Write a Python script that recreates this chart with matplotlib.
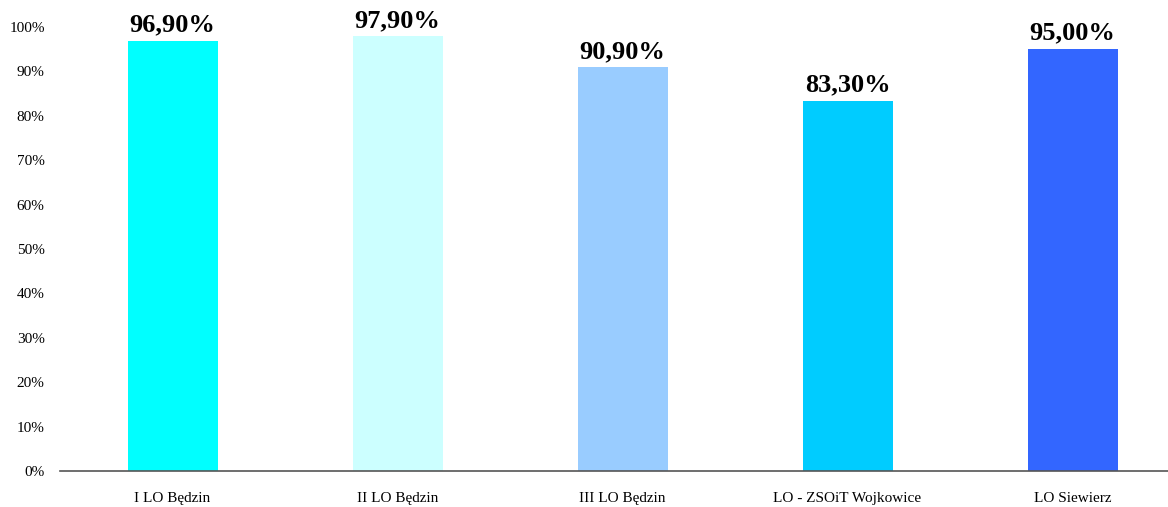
import matplotlib

matplotlib.use("Agg")
import matplotlib.pyplot as plt
from matplotlib.ticker import FuncFormatter

schools = ["I LO Będzin", "II LO Będzin", "III LO Będzin", "LO - ZSOiT Wojkowice", "LO Siewierz"]
values = [96.9, 97.9, 90.9, 83.3, 95.0]
colors = ["#00FFFF", "#CCFFFF", "#99CCFF", "#00CCFF", "#3366FF"]

plt.rcParams["font.family"] = ["Liberation Serif", "DejaVu Serif"]

W, H = 1168, 507
fig = plt.figure(figsize=(W / 100, H / 100), dpi=100)
ax = fig.add_axes([60 / W, 36 / H, 1125 / W, 444 / H])

x = range(len(schools))
ax.bar(x, values, width=0.4, color=colors)
for xi, v in zip(x, values):
    ax.text(xi, v + 1.0, f"{v:.2f}%".replace(".", ","), ha="center", va="bottom",
            fontsize=19, fontweight="bold")

ax.set_xlim(-0.5, 4.5)
ax.set_ylim(0, 100)
ax.set_yticks(range(0, 101, 10))
ax.yaxis.set_major_formatter(FuncFormatter(lambda v, _: f"{v:.0f}%"))
ax.set_xticks(list(x))
ax.set_xticklabels(schools)
ax.tick_params(axis="both", length=0, labelsize=11)
ax.tick_params(axis="x", pad=15)
ax.tick_params(axis="y", pad=11)
for s in ["top", "right", "left"]:
    ax.spines[s].set_visible(False)
ax.spines["bottom"].set_color("#555555")
ax.spines["bottom"].set_linewidth(1.2)

fig.savefig("out.png", dpi=100)
